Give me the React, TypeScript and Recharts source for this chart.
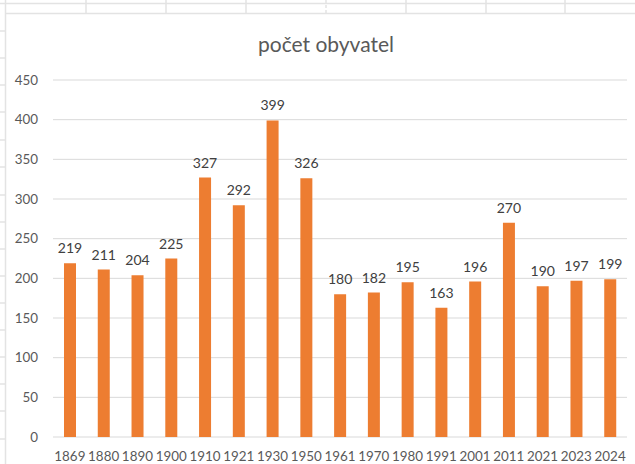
import { BarChart, Bar, XAxis, YAxis, CartesianGrid, LabelList } from 'recharts';

const years = ['1869', '1880', '1890', '1900', '1910', '1921', '1930', '1950', '1961', '1970', '1980', '1991', '2001', '2011', '2021', '2023', '2024'];
const population = [219, 211, 204, 225, 327, 292, 399, 326, 180, 182, 195, 163, 196, 270, 190, 197, 199];
const yTicks = [0, 50, 100, 150, 200, 250, 300, 350, 400, 450];

const data = years.map((year, i) => ({ year, value: population[i] }));

const FONT = 'Lato, "Open Sans", sans-serif';
const SHEET_LINE = '#e3e3e3';

// spreadsheet cells peeking out around the chart
const colLines = [86, 166, 246, 326, 406, 486, 565];
const rowLines = [31, 58, 85, 112, 140, 167, 195, 222, 249, 276, 303, 330, 357, 384, 411, 439];

function SheetBackground() {
  return (
    <svg width={635} height={464} style={{ position: 'absolute', left: 0, top: 0 }}>
      <line x1={0} x2={635} y1={3.5} y2={3.5} stroke={SHEET_LINE} strokeWidth={1.5} />
      {colLines.map((x, i) => (
        <line
          key={x}
          x1={x}
          x2={x}
          y1={0}
          y2={13}
          stroke={SHEET_LINE}
          strokeWidth={1.5}
          strokeDasharray={i === 3 ? '3 2' : undefined}
        />
      ))}
      {rowLines.map((y) => (
        <line key={y} x1={0} x2={5} y1={y} y2={y} stroke={SHEET_LINE} strokeWidth={1.5} />
      ))}
      <line x1={5.5} x2={5.5} y1={0} y2={464} stroke={SHEET_LINE} strokeWidth={1.5} />
      <line x1={5} x2={635} y1={13.5} y2={13.5} stroke={SHEET_LINE} strokeWidth={1.5} />
    </svg>
  );
}

export default function App() {
  return (
    <div style={{ position: 'absolute', left: 0, top: 0, width: 635, height: 464, background: '#fff', overflow: 'hidden' }}>
      <SheetBackground />
      <div
        style={{
          position: 'absolute',
          left: 0,
          top: 30,
          width: 652,
          textAlign: 'center',
          fontFamily: FONT,
          fontSize: 21,
          lineHeight: '27px',
          color: '#595959',
        }}
      >
        počet obyvatel
      </div>
      <div style={{ position: 'absolute', left: 0, top: 0 }}>
        <BarChart width={635} height={464} data={data} margin={{ top: 80, right: 8, bottom: 0, left: 0 }}>
          <CartesianGrid vertical={false} stroke="#d9d9d9" />
          <XAxis
            dataKey="year"
            height={27}
            axisLine={false}
            tickLine={false}
            tickSize={0}
            tickMargin={14}
            interval={0}
            tick={{ fill: '#595959', fontSize: 13.4, fontFamily: FONT }}
          />
          <YAxis
            width={53}
            domain={[0, 450]}
            ticks={yTicks}
            axisLine={false}
            tickLine={false}
            tickSize={0}
            tickMargin={15}
            tick={{ fill: '#595959', fontSize: 13.4, fontFamily: FONT }}
          />
          <Bar dataKey="value" fill="#ed7d31" barSize={12} isAnimationActive={false}>
            <LabelList
              dataKey="value"
              position="top"
              offset={10}
              fill="#404040"
              fontSize={14}
              fontFamily={FONT}
            />
          </Bar>
        </BarChart>
      </div>
    </div>
  );
}
